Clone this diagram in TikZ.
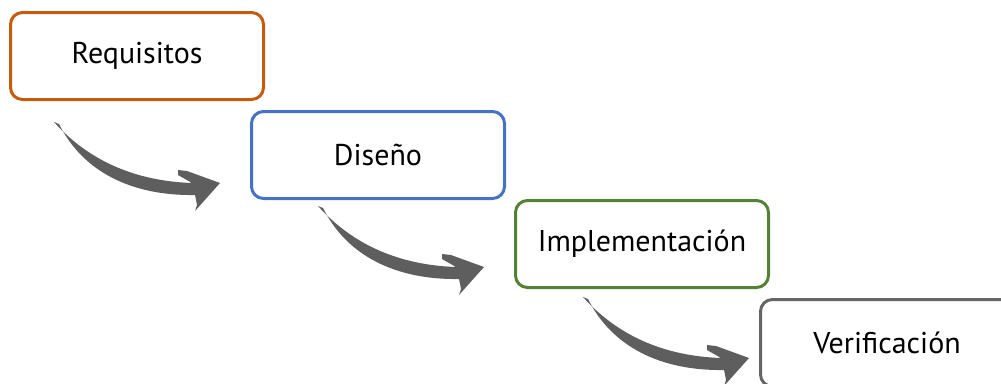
\documentclass[tikz,border=0pt]{standalone}
\usepackage{fontspec}
\setmainfont{PT Sans}
\usetikzlibrary{calc}
\definecolor{corange}{HTML}{C55A11}
\definecolor{cblue}{HTML}{4472C4}
\definecolor{cgreen}{HTML}{548235}
\definecolor{cgray}{HTML}{666666}
\definecolor{carrow}{HTML}{5E5E5E}
\begin{document}
\begin{tikzpicture}[x=1pt,y=-1pt,
  stagebox/.style={draw, line width=3pt, rounded corners=12pt, fill=white,
    minimum width=253pt, minimum height=87pt, anchor=north west, inner sep=0pt,
    font=\fontsize{30}{36}\selectfont},
  curvedarrow/.pic={
    \fill[carrow] (-2,0) .. controls (32,38) and (78,59) .. (136,61)
      -- (122,53) -- (122,48) -- (131,49) -- (164,61) -- (139,89) -- (141,83) -- (139,73)
      .. controls (76,74) and (27,50) .. (3,2) -- cycle;
  }]
\useasboundingbox (0,0) rectangle (1001,383);
\clip (0,0) rectangle (1001,383);
\node[stagebox, draw=corange] (req) at (9,11) {Requisitos};
\node[stagebox, draw=cblue] (dis) at (250,110) {Diseño};
\node[stagebox, draw=cgreen] (imp) at (514,199) {Implementación};
\node[stagebox, draw=cgray] (ver) at (759,298) {Verificación};
\pic at ($(req.south west)+(47,21)$) {curvedarrow};
\pic at ($(dis.south west)+(70,6)$) {curvedarrow};
\pic at ($(imp.south west)+(71,8)$) {curvedarrow};
\end{tikzpicture}
\end{document}
